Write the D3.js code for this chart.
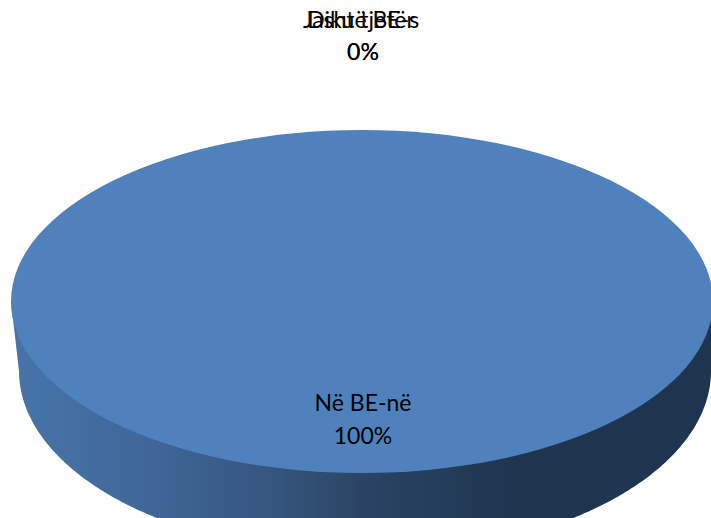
<!DOCTYPE html>
<html>
<head>
<meta charset="utf-8">
<script src="https://cdn.jsdelivr.net/npm/d3@7"></script>
<style>
  html, body { margin: 0; padding: 0; background: #fff; }
  svg { display: block; }
  text { font-family: Lato, "Open Sans", sans-serif; font-size: 23px; fill: #000; text-anchor: middle; }
</style>
</head>
<body>
<div id="chart"></div>
<script>
// Datos de la torta
const categories = ['Në BE-në', 'Jashtë BE-s', 'Diku tjetër'];
const values = [100, 0, 0];
const percentLabels = ['100%', '0%', '0%'];

const width = 711, height = 518;
const cx = 362, cy = 301.5;
const rx = 351, ry = 171.5;
// La elipse de abajo no es igual a la de arriba (perspectiva)
const bx = 365, by = 371, brx = 346, bry = 184;

const svg = d3.select('#chart').append('svg')
    .attr('width', width)
    .attr('height', height);

// Degradado del lateral, con paradas en pixeles de x
const grad = svg.append('defs').append('linearGradient')
    .attr('id', 'side')
    .attr('gradientUnits', 'userSpaceOnUse')
    .attr('x1', 0).attr('x2', width).attr('y1', 0).attr('y2', 0);
[[20, '#4674a8'], [157, '#3f6696'], [280, '#34547c'], [360, '#2b4465'], [450, '#243b59'], [520, '#1f344e']].forEach(s => {
    grad.append('stop').attr('offset', s[0] / width).attr('stop-color', s[1]);
});

const pie = d3.pie().sort(null).value(d => d);
const slices = pie(values);
const arc = d3.arc().innerRadius(0).outerRadius(1);

// Lateral: mitad de abajo de la elipse inferior, cerrada contra la superior
const lower = d3.range(0, Math.PI + 0.005, 0.01).map(a => [bx + brx * Math.cos(a), by + bry * Math.sin(a)]);
svg.append('path')
    .attr('d', d3.line()([[cx + rx, cy], ...lower, [cx - rx, cy]]) + 'Z')
    .attr('fill', 'url(#side)');

// Tapa
svg.append('g')
    .attr('transform', `translate(${cx},${cy}) scale(${rx},${ry})`)
    .selectAll('path')
    .data(slices.filter(d => d.value > 0))
    .enter().append('path')
    .attr('d', arc)
    .attr('fill', '#4f81bd');

// Etiquetas: x del nombre, x del porcentaje, y del nombre, y del porcentaje
const labelPos = [[363, 363, 411, 444], [361, 363, 28, 60], [361, 363, 28, 60]];
categories.forEach((c, i) => {
    svg.append('text').attr('x', labelPos[i][0]).attr('y', labelPos[i][2]).text(c);
    svg.append('text').attr('x', labelPos[i][1]).attr('y', labelPos[i][3]).text(percentLabels[i]);
});
</script>
</body>
</html>
